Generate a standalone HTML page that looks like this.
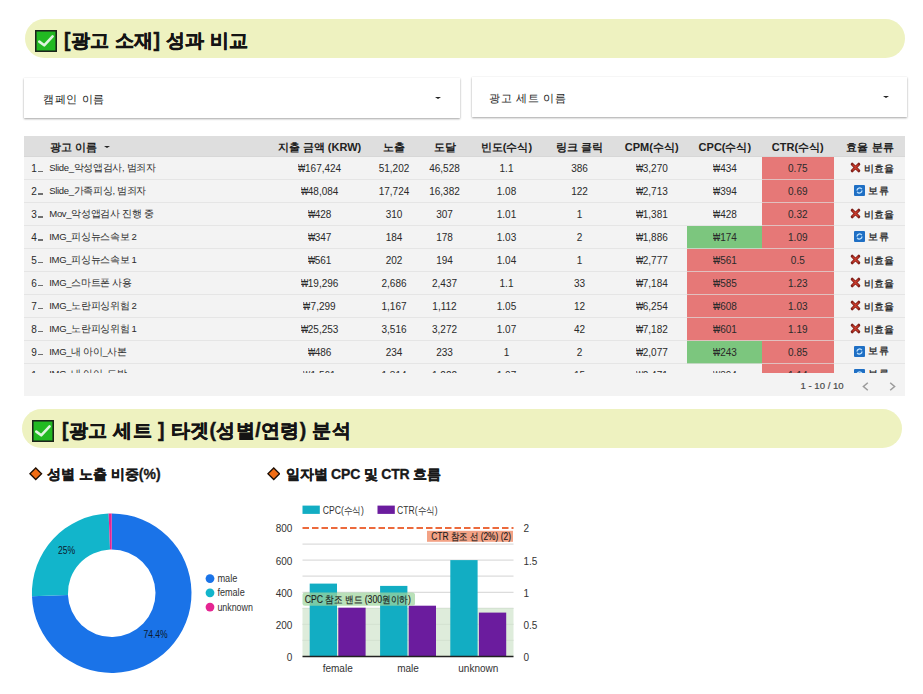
<!DOCTYPE html>
<html><head><meta charset="utf-8">
<style>
*{margin:0;padding:0;box-sizing:border-box}
html,body{width:923px;height:694px;overflow:hidden;background:#fff;font-family:"Liberation Sans",sans-serif;color:#000}
.a{position:absolute;white-space:nowrap}
.banner{position:absolute;left:25px;width:880px;height:39px;border-radius:20px;background:#eef2c0}
.btitle{position:absolute;left:64px;font-size:19.4px;letter-spacing:0.27px;font-weight:bold;color:#141414;line-height:24px;-webkit-text-stroke:0.45px #141414}
.chk{position:absolute;left:35px;width:22px;height:22px}
.dd{position:absolute;top:78px;height:40px;background:#fff;box-shadow:0 1px 2px rgba(0,0,0,.35),0 0 1px rgba(0,0,0,.08)}
.dd span{position:absolute;left:19px;top:12.5px;font-size:11.4px;letter-spacing:0.6px;color:#1a1a1a;line-height:16px}
.dd i{position:absolute;right:18.5px;top:19px;width:0;height:0;border-left:3px solid transparent;border-right:3px solid transparent;border-top:2.6px solid #222}
#tbl{position:absolute;left:24px;top:136px;width:881px;height:260px;background:#f3f3f3;overflow:hidden}
#hdr{position:absolute;left:0;top:0;width:881px;height:21px;background:#dedede;border-bottom:1.5px solid #d7d7d7}
.h{position:absolute;top:4.5px;font-size:11px;font-weight:bold;color:#222;line-height:13px}
.hc{width:100px;text-align:center}
#sort{position:absolute;left:79.5px;top:9.5px;width:0;height:0;border-left:3px solid transparent;border-right:3px solid transparent;border-top:2.6px solid #222}
#body{position:absolute;left:0;top:0;width:881px;height:237px;overflow:hidden}
.row{position:absolute;left:0;width:881px;height:22.95px}
.row b{position:absolute;top:0;height:22.95px}
.row .g{background:#7cc67e}
.row .r{background:#e67877}
.row .sep{left:0;width:881px;top:21.9px;height:1px;background:rgba(222,222,222,.7)}
.row span{position:absolute;top:1.1px;line-height:22px;font-size:10px;color:#2a2a2a}
.row .n{left:7.3px}
.el{display:inline-block;width:4.8px;height:1.2px;background:#707070;margin-left:1.6px;vertical-align:0.5px}
.row .nm{top:-0.2px;left:25.3px;font-size:9.5px;letter-spacing:-0.33px}
.row .c{width:80px;text-align:center}
.row .ef{left:825.5px;color:#1a1a1a;font-size:9.5px;-webkit-text-stroke:0.25px #1a1a1a}
.row .eh{left:830px;letter-spacing:0.7px;top:-0.3px}
.w{font-style:normal;display:inline-block;width:7.2px;transform:scaleX(.76);transform-origin:0 50%}
.ix{width:11px;height:11px;margin-right:3.5px;vertical-align:-1.2px}
.ih{width:11px;height:11px;margin-right:3px;vertical-align:-2.6px}
#pg{position:absolute;left:776.5px;top:244px;font-size:9.6px;color:#4a4a4a;white-space:nowrap;-webkit-text-stroke:0.2px #4a4a4a}
#prev{position:absolute;left:837.5px;top:245.5px;width:7px;height:9px}
#next{position:absolute;left:865px;top:245.5px;width:7px;height:9px}
.dia{position:absolute;width:13.5px;height:13.5px}
.sub{position:absolute;font-size:14px;font-weight:bold;color:#1a1a1a;white-space:nowrap;line-height:18px;-webkit-text-stroke:0.3px #1a1a1a}
svg text{font-family:"Liberation Sans",sans-serif}
.pl{font-size:10px;fill:#0d1b2e}
.lg{font-size:10px;fill:#333}
.ax{font-size:10px;fill:#333}
.rl{font-size:10px;fill:#1c1c1c;stroke:#1c1c1c;stroke-width:0.15px}
</style></head><body>

<div class="banner" style="top:19px"></div>
<svg class="chk" style="top:30px" viewBox="0 0 22 22"><rect x="0.75" y="0.75" width="20.5" height="20.5" fill="#22b922" stroke="#1b241b" stroke-width="1.6"/><path d="M4.3 11.6 L9.2 15.3 L17.6 6.4" fill="none" stroke="#dff5df" stroke-width="2.6" stroke-linejoin="round" stroke-linecap="round"/></svg>
<div class="btitle" style="top:27.5px">[광고 소재] 성과 비교</div>

<div class="dd" style="left:24px;width:435.5px"><span>캠페인 이름</span><i></i></div>
<div class="dd" style="left:472px;width:435px;top:77.3px"><span style="left:17px">광고 세트 이름</span><i></i></div>

<div id="tbl">
<div id="hdr"></div>
<div class="h" style="left:26.0px">광고 이름</div><i id="sort"></i>
<div class="h hc" style="left:245.5px">지출 금액 (KRW)</div>
<div class="h hc" style="left:320.0px">노출</div>
<div class="h hc" style="left:370.5px">도달</div>
<div class="h hc" style="left:432.5px">빈도(수식)</div>
<div class="h hc" style="left:505.6px">링크 클릭</div>
<div class="h hc" style="left:577.7px">CPM(수식)</div>
<div class="h hc" style="left:650.9px">CPC(수식)</div>
<div class="h hc" style="left:723.8px">CTR(수식)</div>
<div class="h hc" style="left:796.0px">효율 분류</div>
<div id="body">
<div class="row" style="top:21.10px">
<b class="r" style="left:738px;width:72px"></b>
<b class="sep"></b>
<span class="n">1<i class="el"></i></span>
<span class="nm">Slide_악성앱검사, 범죄자</span>
<span class="c" style="left:255.5px"><i class="w">₩</i>167,424</span>
<span class="c" style="left:330.0px">51,202</span>
<span class="c" style="left:380.5px">46,528</span>
<span class="c" style="left:442.5px">1.1</span>
<span class="c" style="left:515.6px">386</span>
<span class="c" style="left:587.7px"><i class="w">₩</i>3,270</span>
<span class="c" style="left:660.9px"><i class="w">₩</i>434</span>
<span class="c" style="left:733.8px">0.75</span>
<span class="ef"><svg class="ix" viewBox="0 0 11 11"><path d="M2.2 2.2L8.8 8.8M8.8 2.2L2.2 8.8" stroke="#7e1d16" stroke-width="3" stroke-linecap="round"/><path d="M3 3L8 8M8 3L3 8" stroke="#c73a2b" stroke-width="1.5" stroke-linecap="round"/></svg>비효율</span>
</div>
<div class="row" style="top:44.05px">
<b class="r" style="left:738px;width:72px"></b>
<b class="sep"></b>
<span class="n">2<i class="el"></i></span>
<span class="nm">Slide_가족피싱, 범죄자</span>
<span class="c" style="left:255.5px"><i class="w">₩</i>48,084</span>
<span class="c" style="left:330.0px">17,724</span>
<span class="c" style="left:380.5px">16,382</span>
<span class="c" style="left:442.5px">1.08</span>
<span class="c" style="left:515.6px">122</span>
<span class="c" style="left:587.7px"><i class="w">₩</i>2,713</span>
<span class="c" style="left:660.9px"><i class="w">₩</i>394</span>
<span class="c" style="left:733.8px">0.69</span>
<span class="ef eh"><svg class="ih" viewBox="0 0 11 11"><rect width="11" height="11" rx="1" fill="#1f6fc4"/><path d="M3 5.5A2.6 2.6 0 0 1 7.8 4.2M8 5.5A2.6 2.6 0 0 1 3.2 6.8" fill="none" stroke="#bfe3ff" stroke-width="1.3"/></svg>보류</span>
</div>
<div class="row" style="top:67.00px">
<b class="r" style="left:738px;width:72px"></b>
<b class="sep"></b>
<span class="n">3<i class="el"></i></span>
<span class="nm">Mov_악성앱검사 진행 중</span>
<span class="c" style="left:255.5px"><i class="w">₩</i>428</span>
<span class="c" style="left:330.0px">310</span>
<span class="c" style="left:380.5px">307</span>
<span class="c" style="left:442.5px">1.01</span>
<span class="c" style="left:515.6px">1</span>
<span class="c" style="left:587.7px"><i class="w">₩</i>1,381</span>
<span class="c" style="left:660.9px"><i class="w">₩</i>428</span>
<span class="c" style="left:733.8px">0.32</span>
<span class="ef"><svg class="ix" viewBox="0 0 11 11"><path d="M2.2 2.2L8.8 8.8M8.8 2.2L2.2 8.8" stroke="#7e1d16" stroke-width="3" stroke-linecap="round"/><path d="M3 3L8 8M8 3L3 8" stroke="#c73a2b" stroke-width="1.5" stroke-linecap="round"/></svg>비효율</span>
</div>
<div class="row" style="top:89.95px">
<b class="g" style="left:663px;width:75px"></b>
<b class="r" style="left:738px;width:72px"></b>
<b class="sep"></b>
<span class="n">4<i class="el"></i></span>
<span class="nm">IMG_피싱뉴스속보 2</span>
<span class="c" style="left:255.5px"><i class="w">₩</i>347</span>
<span class="c" style="left:330.0px">184</span>
<span class="c" style="left:380.5px">178</span>
<span class="c" style="left:442.5px">1.03</span>
<span class="c" style="left:515.6px">2</span>
<span class="c" style="left:587.7px"><i class="w">₩</i>1,886</span>
<span class="c" style="left:660.9px"><i class="w">₩</i>174</span>
<span class="c" style="left:733.8px">1.09</span>
<span class="ef eh"><svg class="ih" viewBox="0 0 11 11"><rect width="11" height="11" rx="1" fill="#1f6fc4"/><path d="M3 5.5A2.6 2.6 0 0 1 7.8 4.2M8 5.5A2.6 2.6 0 0 1 3.2 6.8" fill="none" stroke="#bfe3ff" stroke-width="1.3"/></svg>보류</span>
</div>
<div class="row" style="top:112.90px">
<b class="r" style="left:663px;width:75px"></b>
<b class="r" style="left:738px;width:72px"></b>
<b class="sep"></b>
<span class="n">5<i class="el"></i></span>
<span class="nm">IMG_피싱뉴스속보 1</span>
<span class="c" style="left:255.5px"><i class="w">₩</i>561</span>
<span class="c" style="left:330.0px">202</span>
<span class="c" style="left:380.5px">194</span>
<span class="c" style="left:442.5px">1.04</span>
<span class="c" style="left:515.6px">1</span>
<span class="c" style="left:587.7px"><i class="w">₩</i>2,777</span>
<span class="c" style="left:660.9px"><i class="w">₩</i>561</span>
<span class="c" style="left:733.8px">0.5</span>
<span class="ef"><svg class="ix" viewBox="0 0 11 11"><path d="M2.2 2.2L8.8 8.8M8.8 2.2L2.2 8.8" stroke="#7e1d16" stroke-width="3" stroke-linecap="round"/><path d="M3 3L8 8M8 3L3 8" stroke="#c73a2b" stroke-width="1.5" stroke-linecap="round"/></svg>비효율</span>
</div>
<div class="row" style="top:135.85px">
<b class="r" style="left:663px;width:75px"></b>
<b class="r" style="left:738px;width:72px"></b>
<b class="sep"></b>
<span class="n">6<i class="el"></i></span>
<span class="nm">IMG_스마트폰 사용</span>
<span class="c" style="left:255.5px"><i class="w">₩</i>19,296</span>
<span class="c" style="left:330.0px">2,686</span>
<span class="c" style="left:380.5px">2,437</span>
<span class="c" style="left:442.5px">1.1</span>
<span class="c" style="left:515.6px">33</span>
<span class="c" style="left:587.7px"><i class="w">₩</i>7,184</span>
<span class="c" style="left:660.9px"><i class="w">₩</i>585</span>
<span class="c" style="left:733.8px">1.23</span>
<span class="ef"><svg class="ix" viewBox="0 0 11 11"><path d="M2.2 2.2L8.8 8.8M8.8 2.2L2.2 8.8" stroke="#7e1d16" stroke-width="3" stroke-linecap="round"/><path d="M3 3L8 8M8 3L3 8" stroke="#c73a2b" stroke-width="1.5" stroke-linecap="round"/></svg>비효율</span>
</div>
<div class="row" style="top:158.80px">
<b class="r" style="left:663px;width:75px"></b>
<b class="r" style="left:738px;width:72px"></b>
<b class="sep"></b>
<span class="n">7<i class="el"></i></span>
<span class="nm">IMG_노란피싱위험 2</span>
<span class="c" style="left:255.5px"><i class="w">₩</i>7,299</span>
<span class="c" style="left:330.0px">1,167</span>
<span class="c" style="left:380.5px">1,112</span>
<span class="c" style="left:442.5px">1.05</span>
<span class="c" style="left:515.6px">12</span>
<span class="c" style="left:587.7px"><i class="w">₩</i>6,254</span>
<span class="c" style="left:660.9px"><i class="w">₩</i>608</span>
<span class="c" style="left:733.8px">1.03</span>
<span class="ef"><svg class="ix" viewBox="0 0 11 11"><path d="M2.2 2.2L8.8 8.8M8.8 2.2L2.2 8.8" stroke="#7e1d16" stroke-width="3" stroke-linecap="round"/><path d="M3 3L8 8M8 3L3 8" stroke="#c73a2b" stroke-width="1.5" stroke-linecap="round"/></svg>비효율</span>
</div>
<div class="row" style="top:181.75px">
<b class="r" style="left:663px;width:75px"></b>
<b class="r" style="left:738px;width:72px"></b>
<b class="sep"></b>
<span class="n">8<i class="el"></i></span>
<span class="nm">IMG_노란피싱위험 1</span>
<span class="c" style="left:255.5px"><i class="w">₩</i>25,253</span>
<span class="c" style="left:330.0px">3,516</span>
<span class="c" style="left:380.5px">3,272</span>
<span class="c" style="left:442.5px">1.07</span>
<span class="c" style="left:515.6px">42</span>
<span class="c" style="left:587.7px"><i class="w">₩</i>7,182</span>
<span class="c" style="left:660.9px"><i class="w">₩</i>601</span>
<span class="c" style="left:733.8px">1.19</span>
<span class="ef"><svg class="ix" viewBox="0 0 11 11"><path d="M2.2 2.2L8.8 8.8M8.8 2.2L2.2 8.8" stroke="#7e1d16" stroke-width="3" stroke-linecap="round"/><path d="M3 3L8 8M8 3L3 8" stroke="#c73a2b" stroke-width="1.5" stroke-linecap="round"/></svg>비효율</span>
</div>
<div class="row" style="top:204.70px">
<b class="g" style="left:663px;width:75px"></b>
<b class="r" style="left:738px;width:72px"></b>
<b class="sep"></b>
<span class="n">9<i class="el"></i></span>
<span class="nm">IMG_내 아이_사본</span>
<span class="c" style="left:255.5px"><i class="w">₩</i>486</span>
<span class="c" style="left:330.0px">234</span>
<span class="c" style="left:380.5px">233</span>
<span class="c" style="left:442.5px">1</span>
<span class="c" style="left:515.6px">2</span>
<span class="c" style="left:587.7px"><i class="w">₩</i>2,077</span>
<span class="c" style="left:660.9px"><i class="w">₩</i>243</span>
<span class="c" style="left:733.8px">0.85</span>
<span class="ef eh"><svg class="ih" viewBox="0 0 11 11"><rect width="11" height="11" rx="1" fill="#1f6fc4"/><path d="M3 5.5A2.6 2.6 0 0 1 7.8 4.2M8 5.5A2.6 2.6 0 0 1 3.2 6.8" fill="none" stroke="#bfe3ff" stroke-width="1.3"/></svg>보류</span>
</div>
<div class="row" style="top:227.65px">
<b class="r" style="left:738px;width:72px"></b>
<b class="sep"></b>
<span class="n">1<i class="el"></i></span>
<span class="nm">IMG_내 아이_도박</span>
<span class="c" style="left:255.5px"><i class="w">₩</i>1,561</span>
<span class="c" style="left:330.0px">1,314</span>
<span class="c" style="left:380.5px">1,222</span>
<span class="c" style="left:442.5px">1.07</span>
<span class="c" style="left:515.6px">15</span>
<span class="c" style="left:587.7px"><i class="w">₩</i>2,471</span>
<span class="c" style="left:660.9px"><i class="w">₩</i>394</span>
<span class="c" style="left:733.8px">1.14</span>
<span class="ef eh"><svg class="ih" viewBox="0 0 11 11"><rect width="11" height="11" rx="1" fill="#1f6fc4"/><path d="M3 5.5A2.6 2.6 0 0 1 7.8 4.2M8 5.5A2.6 2.6 0 0 1 3.2 6.8" fill="none" stroke="#bfe3ff" stroke-width="1.3"/></svg>보류</span>
</div>
</div>
<div id="pg">1 - 10 / 10</div><svg id="prev" viewBox="0 0 7 9"><path d="M5.8 0.7L1.4 4.5L5.8 8.3" fill="none" stroke="#9a9a9a" stroke-width="1.5"/></svg><svg id="next" viewBox="0 0 7 9"><path d="M1.2 0.7L5.6 4.5L1.2 8.3" fill="none" stroke="#9a9a9a" stroke-width="1.5"/></svg>
</div><!--/tbl-->
</div>


<div class="banner" style="top:409px;left:22px"></div>
<svg class="chk" style="top:420px;left:32px" viewBox="0 0 22 22"><rect x="0.75" y="0.75" width="20.5" height="20.5" fill="#22b922" stroke="#1b241b" stroke-width="1.6"/><path d="M4.3 11.6 L9.2 15.3 L17.6 6.4" fill="none" stroke="#dff5df" stroke-width="2.6" stroke-linejoin="round" stroke-linecap="round"/></svg>
<div class="btitle" style="top:418px;left:62px;letter-spacing:0.4px">[광고 세트 ] 타겟(성별/연령) 분석</div>

<svg class="dia" style="left:29px;top:467px" viewBox="0 0 13 13"><path d="M6.5 0.9L12.1 6.5L6.5 12.1L0.9 6.5Z" fill="#f26d14" stroke="#1e0f05" stroke-width="1.3"/></svg>
<div class="sub" style="left:47px;top:465px">성별 노출 비중(%)</div>
<svg class="dia" style="left:266.5px;top:467px" viewBox="0 0 13 13"><path d="M6.5 0.9L12.1 6.5L6.5 12.1L0.9 6.5Z" fill="#f26d14" stroke="#1e0f05" stroke-width="1.3"/></svg>
<div class="sub" style="left:286px;top:465px;letter-spacing:-0.2px">일자별 CPC 및 CTR 흐름</div>

<svg id="donut" style="position:absolute;left:0;top:0" width="923" height="694" viewBox="0 0 923 694">
<path d="M111.70 513.40A79.8 79.8 0 1 1 31.96 596.26L67.93 594.88A43.8 43.8 0 1 0 111.70 549.40Z" fill="#1a73e8"/>
<path d="M31.96 596.26A79.8 79.8 0 0 1 108.64 513.46L110.02 549.43A43.8 43.8 0 0 0 67.93 594.88Z" fill="#12b5cb"/>
<path d="M108.64 513.46A79.8 79.8 0 0 1 111.70 513.40L111.70 549.40A43.8 43.8 0 0 0 110.02 549.43Z" fill="#e52592"/>
<text x="57.9" y="553.9" class="pl" textLength="17.2" lengthAdjust="spacingAndGlyphs">25%</text>
<text x="143.4" y="637.6" class="pl" textLength="24.3" lengthAdjust="spacingAndGlyphs">74.4%</text>
<circle cx="210" cy="578.6" r="4.4" fill="#1a73e8"/>
<circle cx="210" cy="592.8" r="4.4" fill="#12b5cb"/>
<circle cx="210" cy="607.1" r="4.4" fill="#e52592"/>
<text x="217.4" y="582" class="lg" textLength="19.9" lengthAdjust="spacingAndGlyphs">male</text>
<text x="217.4" y="596.2" class="lg" textLength="27.3" lengthAdjust="spacingAndGlyphs">female</text>
<text x="217.4" y="610.5" class="lg" textLength="35.5" lengthAdjust="spacingAndGlyphs">unknown</text>
</svg>

<svg id="bar" style="position:absolute;left:0;top:0" width="923" height="694" viewBox="0 0 923 694">
<rect x="302.5" y="505.6" width="17.3" height="8.3" fill="#12adc3"/>
<text x="322.8" y="513.5" class="lg" textLength="41.2" lengthAdjust="spacingAndGlyphs">CPC(수식)</text>
<rect x="377.5" y="505.6" width="17.3" height="8.3" fill="#6b1c9e"/>
<text x="397.1" y="513.5" class="lg" textLength="40.4" lengthAdjust="spacingAndGlyphs">CTR(수식)</text>
<line x1="302.5" y1="640.4" x2="513.5" y2="640.4" stroke="#dcdcdc" stroke-width="1.2"/>
<line x1="302.5" y1="624.4" x2="513.5" y2="624.4" stroke="#dcdcdc" stroke-width="1.2"/>
<line x1="302.5" y1="608.3" x2="513.5" y2="608.3" stroke="#dcdcdc" stroke-width="1.2"/>
<line x1="302.5" y1="592.3" x2="513.5" y2="592.3" stroke="#dcdcdc" stroke-width="1.2"/>
<line x1="302.5" y1="576.2" x2="513.5" y2="576.2" stroke="#dcdcdc" stroke-width="1.2"/>
<line x1="302.5" y1="560.1" x2="513.5" y2="560.1" stroke="#dcdcdc" stroke-width="1.2"/>
<line x1="302.5" y1="544.1" x2="513.5" y2="544.1" stroke="#dcdcdc" stroke-width="1.2"/>
<rect x="302.5" y="608" width="211" height="48.5" fill="#d3e6cf" fill-opacity="0.75"/>
<rect x="309.7" y="583.6" width="27.3" height="72.9" fill="#12adc3"/>
<rect x="338.3" y="607.7" width="27.3" height="48.8" fill="#6b1c9e"/>
<rect x="380.1" y="585.9" width="27.3" height="70.6" fill="#12adc3"/>
<rect x="408.7" y="605.7" width="27.3" height="50.8" fill="#6b1c9e"/>
<rect x="450.3" y="560.1" width="27.3" height="96.4" fill="#12adc3"/>
<rect x="478.9" y="612.6" width="27.3" height="43.9" fill="#6b1c9e"/>
<line x1="302.5" y1="656.5" x2="513.5" y2="656.5" stroke="#222" stroke-width="1.5"/>
<line x1="302.5" y1="528" x2="513.5" y2="528" stroke="#ec6a3c" stroke-width="2" stroke-dasharray="6.5 3"/>
<rect x="427" y="530.8" width="86" height="11" fill="#f3a285"/>
<text x="431.2" y="540" class="rl" textLength="79.8" lengthAdjust="spacingAndGlyphs">CTR 참조 선 (2%) (2)</text>
<rect x="302.5" y="592.6" width="112.5" height="13.2" rx="2.5" fill="rgb(160,214,158)" fill-opacity="0.72"/>
<text x="304.8" y="603.4" class="rl" textLength="106" lengthAdjust="spacingAndGlyphs">CPC 참조 밴드 (300원이하)</text>
<text x="292.4" y="532.3" class="ax" text-anchor="end">800</text>
<text x="292.4" y="564.5" class="ax" text-anchor="end">600</text>
<text x="292.4" y="596.7" class="ax" text-anchor="end">400</text>
<text x="292.4" y="628.8" class="ax" text-anchor="end">200</text>
<text x="292.4" y="660.8" class="ax" text-anchor="end">0</text>
<text x="523.4" y="532.3" class="ax">2</text>
<text x="523.4" y="564.5" class="ax">1.5</text>
<text x="523.4" y="596.7" class="ax">1</text>
<text x="523.4" y="628.8" class="ax">0.5</text>
<text x="523.4" y="660.8" class="ax">0</text>
<text x="337.7" y="672" class="lg" text-anchor="middle">female</text>
<text x="408" y="672" class="lg" text-anchor="middle">male</text>
<text x="478.3" y="672" class="lg" text-anchor="middle">unknown</text>
</svg>
</body></html>
